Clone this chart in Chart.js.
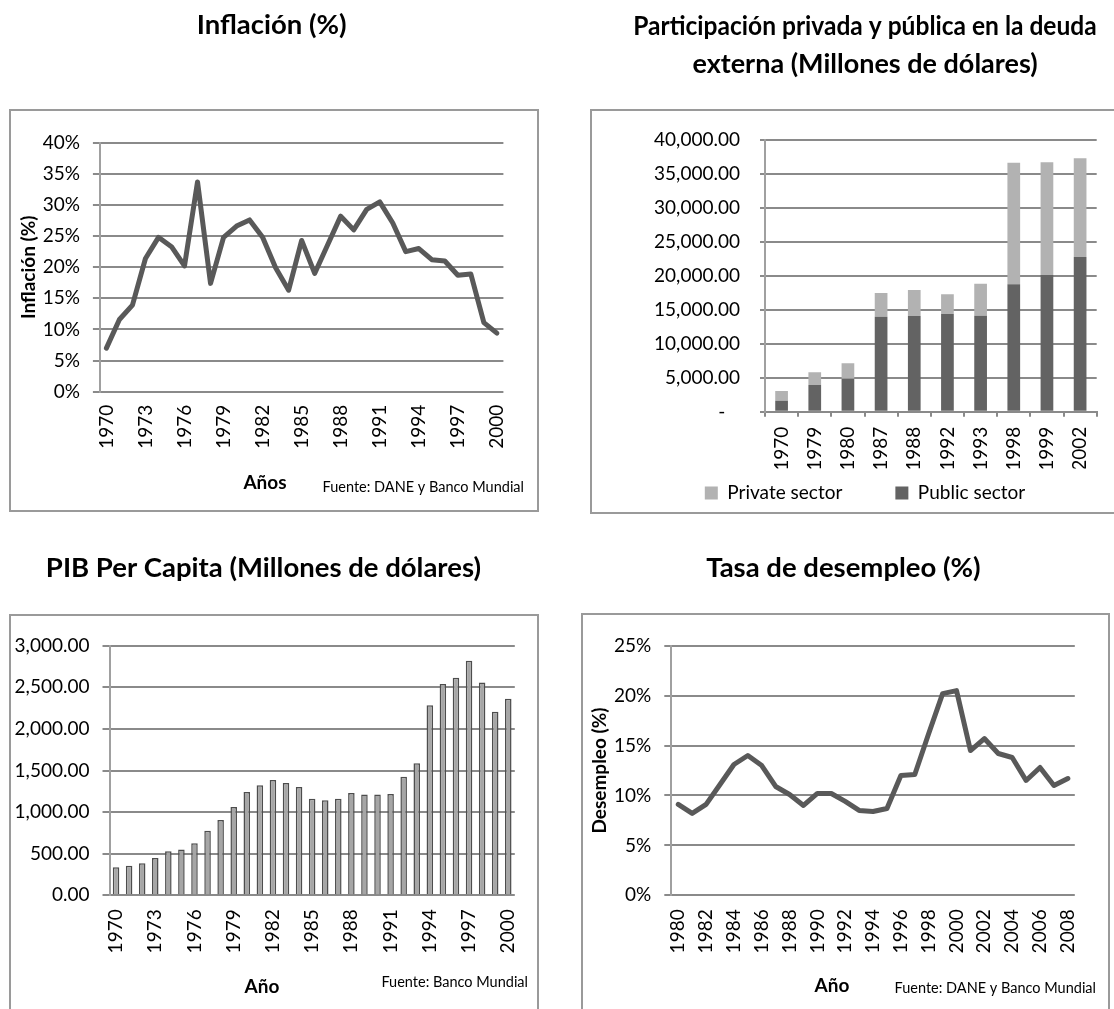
<!DOCTYPE html>
<html lang="es">
<head>
<meta charset="UTF-8">
<title>Indicadores económicos</title>
<script src="https://cdn.jsdelivr.net/npm/chart.js@4"></script>
<style>
  html, body { margin: 0; padding: 0; background: #fff; overflow: hidden; }
  body { width: 1114px; height: 1009px; position: relative; }
  .marco { position: absolute; box-sizing: border-box; border: 2px solid #9a9a9a; }
  canvas { position: absolute; }
</style>
</head>
<body>
<div class="marco" style="left:9px;top:109px;width:530px;height:403px"></div>
<div class="marco" style="left:590px;top:109px;width:700px;height:405px"></div>
<div class="marco" style="left:9px;top:614px;width:530px;height:500px"></div>
<div class="marco" style="left:581px;top:613px;width:529px;height:500px"></div>

<canvas id="inflacion" width="554" height="515" style="left:0;top:0"></canvas>
<canvas id="deuda" width="640" height="515" style="left:560px;top:0"></canvas>
<canvas id="pib" width="554" height="489" style="left:0;top:520px"></canvas>
<canvas id="desempleo" width="568" height="489" style="left:572px;top:520px"></canvas>

<script>
// Datos
const aniosInflacion = ['1970','1971','1972','1973','1974','1975','1976','1977','1978','1979','1980',
  '1981','1982','1983','1984','1985','1986','1987','1988','1989','1990','1991','1992','1993','1994',
  '1995','1996','1997','1998','1999','2000'];
const inflacion = [7.0, 11.6, 13.9, 21.4, 24.8, 23.3, 20.2, 33.7, 17.4, 24.8, 26.6, 27.6, 24.8, 19.9,
  16.3, 24.3, 19.0, 23.6, 28.2, 26.0, 29.3, 30.5, 27.1, 22.5, 23.0, 21.2, 21.0, 18.7, 18.9, 11.1, 9.4];

const aniosDeuda = ['1970','1979','1980','1987','1988','1992','1993','1998','1999','2002'];
const sectorPublico = [1620, 3930, 4860, 13990, 14090, 14380, 14130, 18750, 20120, 22770];
const sectorPrivado = [1420, 1860, 2260, 3480, 3820, 2900, 4720, 17910, 16590, 14530];

const aniosPib = aniosInflacion;
const pibPerCapita = [336, 356, 384, 449, 529, 549, 625, 777, 905, 1061, 1241, 1322, 1386, 1350, 1302,
  1161, 1141, 1161, 1229, 1213, 1213, 1217, 1426, 1586, 2283, 2539, 2615, 2819, 2559, 2207, 2363];

const aniosDesempleo = ['1980','1981','1982','1983','1984','1985','1986','1987','1988','1989','1990',
  '1991','1992','1993','1994','1995','1996','1997','1998','1999','2000','2001','2002','2003','2004',
  '2005','2006','2007','2008'];
const desempleo = [9.1, 8.2, 9.1, 11.1, 13.1, 14.0, 13.0, 10.9, 10.1, 9.0, 10.2, 10.2, 9.4, 8.5, 8.4,
  8.7, 12.0, 12.1, 16.2, 20.2, 20.5, 14.5, 15.7, 14.2, 13.8, 11.5, 12.8, 11.0, 11.7];

// Estilo general
const fuente = 'Lato, "Open Sans", sans-serif';
Chart.defaults.font.family = fuente;
Chart.defaults.font.size = 19;
Chart.defaults.color = '#000';
Chart.defaults.animation = false;

const gris = '#8a8a8a';
const grisEje = '#a0a0a0';
const fTitulo = { size: 27.5, weight: 'bold', lineHeight: 38 / 27.5 };

// textos sueltos (titulo de eje desplazado y fuente)
const notas = {
  id: 'notas',
  afterDraw(chart, args, opts) {
    const ctx = chart.ctx;
    ctx.save();
    ctx.fillStyle = '#000';
    ctx.textBaseline = 'middle';
    opts.items.forEach(n => {
      ctx.font = n.font;
      ctx.textAlign = n.align;
      ctx.fillText(n.text, n.x, n.y);
    });
    ctx.restore();
  }
};

function cadaN(n) {
  return function(val, i) { return i % n === 0 ? this.getLabelForValue(val) : ''; };
}
const fmt2 = v => v.toLocaleString('en-US', { minimumFractionDigits: 2, maximumFractionDigits: 2 });

// Inflación
new Chart(document.getElementById('inflacion'), {
  type: 'line',
  data: {
    labels: aniosInflacion,
    datasets: [{ data: inflacion, borderColor: '#595959', borderWidth: 5, pointRadius: 0,
      tension: 0, borderJoinStyle: 'round', borderCapStyle: 'round' }]
  },
  plugins: [notas],
  options: {
    responsive: false,
    layout: { padding: { left: 40, right: 50.6, top: 0, bottom: 0 } },
    plugins: {
      legend: { display: false },
      tooltip: { enabled: false },
      title: { display: true, text: 'Inflación (%)', font: fTitulo, padding: { top: 6, bottom: 98.7 } },
      notas: { items: [
        { text: 'Años', x: 265, y: 483, align: 'center', font: 'bold 19px ' + fuente },
        { text: 'Fuente: DANE y Banco Mundial', x: 524, y: 487, align: 'right', font: '14.5px ' + fuente }
      ] }
    },
    scales: {
      x: {
        offset: true,
        grid: { display: false, drawTicks: false },
        border: { display: false },
        ticks: { autoSkip: false, minRotation: 90, maxRotation: 90, padding: 13, callback: cadaN(3) },
        afterFit: s => { s.height = 123.3; }
      },
      y: {
        min: 0, max: 40,
        grid: { color: gris, lineWidth: 2, tickLength: 7 },
        border: { display: true, color: grisEje, width: 2 },
        ticks: { stepSize: 5, padding: 13, callback: v => v + '%' },
        title: { display: true, text: 'Inflación (%)', font: { size: 19, weight: 'bold' }, padding: { top: -22.4, bottom: 0 } },
        afterFit: s => { s.width = 59.9; }
      }
    }
  }
});

// Deuda externa
new Chart(document.getElementById('deuda'), {
  type: 'bar',
  data: {
    labels: aniosDeuda,
    datasets: [
      { label: 'Public sector', data: sectorPublico, backgroundColor: '#636363', categoryPercentage: 1, barPercentage: 0.383 },
      { label: 'Private sector', data: sectorPrivado, backgroundColor: '#b2b2b2', categoryPercentage: 1, barPercentage: 0.383 }
    ]
  },
  options: {
    responsive: false,
    layout: { padding: { left: 73.3, right: 103.3, top: 0, bottom: 2.5 } },
    plugins: {
      tooltip: { enabled: false },
      title: { display: true, text: ['Participación privada y pública en la deuda', 'externa (Millones de dólares)'],
        font: { size: 27, weight: 'bold', lineHeight: 38 / 27 }, padding: { top: 7, bottom: 57 } },
      legend: {
        position: 'bottom', reverse: true,
        labels: {
          boxWidth: 13, boxHeight: 13, padding: 15, font: { size: 19 },
          generateLabels(chart) {
            const items = Chart.defaults.plugins.legend.labels.generateLabels(chart);
            // hueco ancho entre las dos entradas, como en el original
            items.forEach(it => { if (it.datasetIndex === 1) it.text += '\u2003\u2003\u2002'; });
            return items;
          }
        }
      }
    },
    scales: {
      x: {
        stacked: true,
        grid: { display: true, drawOnChartArea: false, drawTicks: true, tickLength: 5, color: gris, lineWidth: 2 },
        border: { display: true, color: gris, width: 2 },
        ticks: { autoSkip: false, minRotation: 90, maxRotation: 90, padding: 10 },
        afterFit: s => { s.height = 56.8; }
      },
      y: {
        stacked: true,
        min: 0, max: 40000,
        grid: { color: gris, lineWidth: 2, tickLength: 5 },
        border: { display: true, color: grisEje, width: 2 },
        ticks: { stepSize: 5000, padding: 20, callback: v => v === 0 ? '-   ' : fmt2(v) },
        afterFit: s => { s.width = 131.7; }
      }
    }
  }
});

// PIB per capita
new Chart(document.getElementById('pib'), {
  type: 'bar',
  data: {
    labels: aniosPib,
    datasets: [{ data: pibPerCapita, backgroundColor: '#a6a6a6', borderColor: '#4d4d4d', borderWidth: 1.5,
      categoryPercentage: 1, barPercentage: 0.5 }]
  },
  plugins: [notas],
  options: {
    responsive: false,
    layout: { padding: { left: 12, right: 39.2, top: 0, bottom: 0 } },
    plugins: {
      legend: { display: false },
      tooltip: { enabled: false },
      title: { display: true, text: 'PIB Per Capita (Millones de dólares)', font: fTitulo, padding: { top: 29, bottom: 58.7 } },
      notas: { items: [
        { text: 'Año', x: 262, y: 467, align: 'center', font: 'bold 19px ' + fuente },
        { text: 'Fuente: Banco Mundial', x: 528, y: 462, align: 'right', font: '14.5px ' + fuente }
      ] }
    },
    scales: {
      x: {
        grid: { display: false, drawTicks: false },
        border: { display: false },
        ticks: { autoSkip: false, minRotation: 90, maxRotation: 90, padding: 14, callback: cadaN(3) },
        afterFit: s => { s.height = 113.7; }
      },
      y: {
        min: 0, max: 3000,
        grid: { color: gris, lineWidth: 2, tickLength: 7 },
        border: { display: true, color: grisEje, width: 2 },
        ticks: { stepSize: 500, padding: 13, callback: v => fmt2(v) },
        afterFit: s => { s.width = 97.5; }
      }
    }
  }
});

// Desempleo
new Chart(document.getElementById('desempleo'), {
  type: 'line',
  data: {
    labels: aniosDesempleo,
    datasets: [{ data: desempleo, borderColor: '#595959', borderWidth: 5, pointRadius: 0,
      tension: 0, borderJoinStyle: 'round', borderCapStyle: 'round' }]
  },
  plugins: [notas],
  options: {
    responsive: false,
    layout: { padding: { left: 40, right: 65.2, top: 0, bottom: 0 } },
    plugins: {
      legend: { display: false },
      tooltip: { enabled: false },
      title: { display: true, text: 'Tasa de desempleo (%)', font: fTitulo, padding: { top: 29, bottom: 58.7 } },
      notas: { items: [
        { text: 'Año', x: 260, y: 466, align: 'center', font: 'bold 19px ' + fuente },
        { text: 'Fuente: DANE y Banco Mundial', x: 524, y: 468, align: 'right', font: '14.5px ' + fuente }
      ] }
    },
    scales: {
      x: {
        offset: true,
        grid: { display: false, drawTicks: false },
        border: { display: false },
        ticks: { autoSkip: false, minRotation: 90, maxRotation: 90, padding: 14, callback: cadaN(2) },
        afterFit: s => { s.height = 113.7; }
      },
      y: {
        min: 0, max: 25,
        grid: { color: gris, lineWidth: 2, tickLength: 7 },
        border: { display: true, color: grisEje, width: 2 },
        ticks: { stepSize: 5, padding: 13, callback: v => v + '%' },
        title: { display: true, text: 'Desempleo (%)', font: { size: 19, weight: 'bold' }, padding: { top: -23.8, bottom: 0 } },
        afterFit: s => { s.width = 59.3; }
      }
    }
  }
});
</script>
</body>
</html>
